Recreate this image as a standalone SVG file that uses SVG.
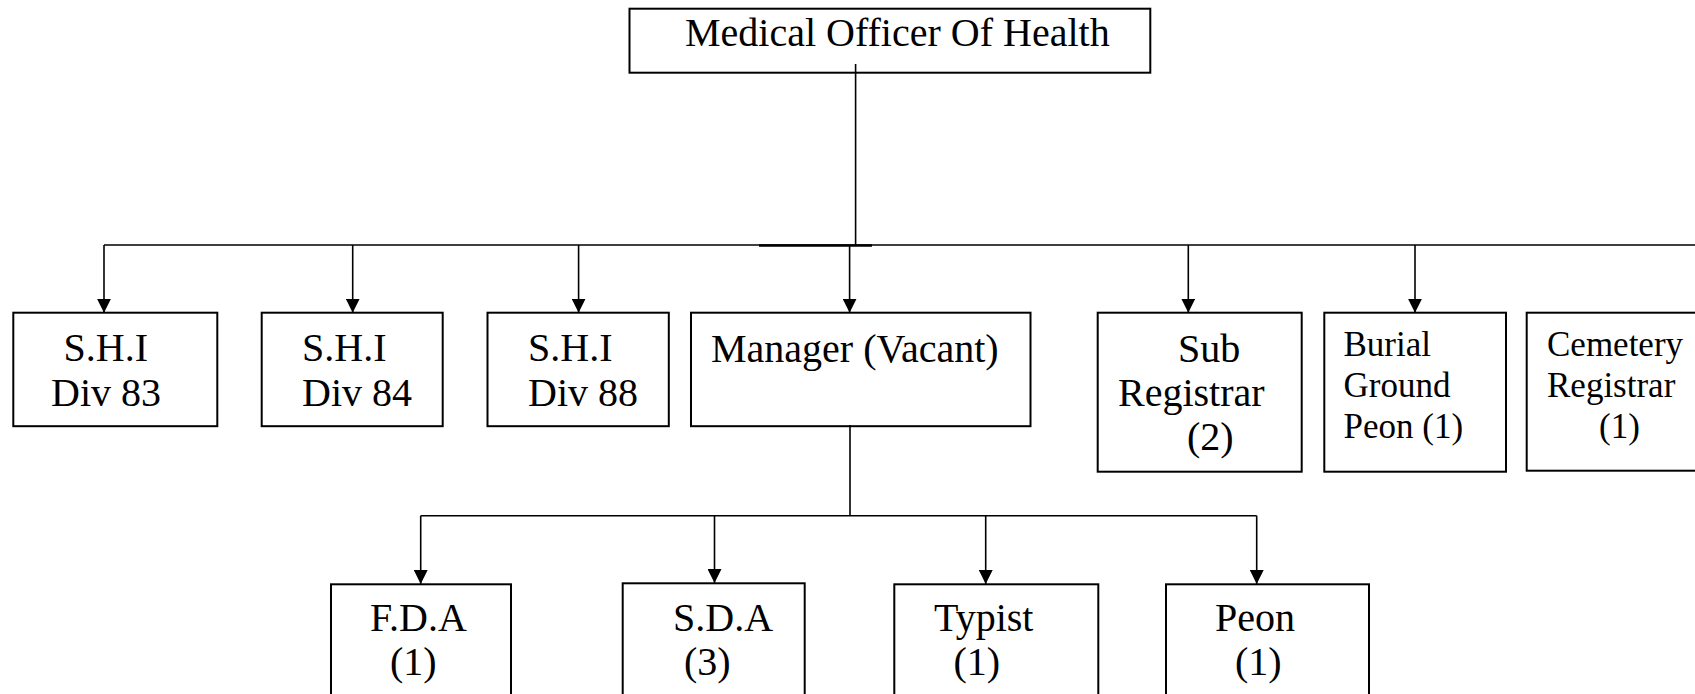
<svg xmlns="http://www.w3.org/2000/svg" width="1695" height="694" viewBox="0 0 1695 694">
<style>
.box{fill:#fff;stroke:#000;stroke-width:2}
.t{font-family:"Liberation Serif","Times New Roman",serif;font-size:40px;fill:#000}
.s{font-size:35px}
.ln{fill:none;stroke:#000;stroke-width:1.6}
</style>
<defs>
<marker id="ah" viewBox="0 0 14 14" refX="14" refY="7" markerWidth="14" markerHeight="14" orient="auto" markerUnits="userSpaceOnUse">
<path d="M0,0 L14,7 L0,14 z" fill="#000"/>
</marker>
</defs>
<rect width="1695" height="694" fill="#fff"/>
<g id="moh">
<rect class="box" x="629.5" y="8.7" width="520.8" height="64"/>
<text class="t" x="685" y="46">Medical Officer Of Health</text>
</g>
<g id="shi83">
<rect class="box" x="13.3" y="312.7" width="204" height="113.5"/>
<text class="t" x="63.5" y="361">S.H.I</text>
<text class="t" x="51" y="406">Div 83</text>
</g>
<g id="shi84">
<rect class="box" x="261.7" y="312.7" width="181" height="113.5"/>
<text class="t" x="302" y="361">S.H.I</text>
<text class="t" x="302" y="406">Div 84</text>
</g>
<g id="shi88">
<rect class="box" x="487.5" y="312.7" width="181.3" height="113.5"/>
<text class="t" x="528" y="361">S.H.I</text>
<text class="t" x="528" y="406">Div 88</text>
</g>
<g id="manager">
<rect class="box" x="691" y="312.7" width="339.5" height="113.5"/>
<text class="t" x="711" y="361.5">Manager (Vacant)</text>
</g>
<g id="subregistrar">
<rect class="box" x="1097.7" y="312.7" width="204" height="159"/>
<text class="t" x="1178" y="362">Sub</text>
<text class="t" x="1118" y="406">Registrar</text>
<text class="t" x="1187" y="450">(2)</text>
</g>
<g id="burial">
<rect class="box" x="1324.3" y="312.7" width="181.7" height="159"/>
<text class="t s" x="1343.5" y="356">Burial</text>
<text class="t s" x="1343.5" y="397">Ground</text>
<text class="t s" x="1343.5" y="438">Peon (1)</text>
</g>
<g id="cemetery">
<rect class="box" x="1526.7" y="312.7" width="200" height="158"/>
<text class="t s" x="1547" y="356">Cemetery</text>
<text class="t s" x="1547" y="397">Registrar</text>
<text class="t s" x="1599" y="438">(1)</text>
</g>
<g id="fda">
<rect class="box" x="331" y="584.3" width="180" height="140"/>
<text class="t" x="370" y="631">F.D.A</text>
<text class="t" x="390" y="675">(1)</text>
</g>
<g id="sda">
<rect class="box" x="622.7" y="583.3" width="182" height="140"/>
<text class="t" x="673" y="631">S.D.A</text>
<text class="t" x="684" y="675">(3)</text>
</g>
<g id="typist">
<rect class="box" x="894.3" y="584.3" width="204" height="140"/>
<text class="t" x="934" y="631">Typist</text>
<text class="t" x="953.5" y="675">(1)</text>
</g>
<g id="peon">
<rect class="box" x="1166" y="584.3" width="203" height="140"/>
<text class="t" x="1215" y="631">Peon</text>
<text class="t" x="1235" y="675">(1)</text>
</g>
<g id="connectors">
<line class="ln" x1="855.6" y1="64" x2="855.6" y2="245"/>
<line class="ln" x1="104" y1="245" x2="1700" y2="245"/>
<line x1="759" y1="245.5" x2="872" y2="245.5" stroke="#000" stroke-width="2.6"/>
<line class="ln" x1="104" y1="245" x2="104" y2="312.7" marker-end="url(#ah)"/>
<line class="ln" x1="352.7" y1="245" x2="352.7" y2="312.7" marker-end="url(#ah)"/>
<line class="ln" x1="578.6" y1="245" x2="578.6" y2="312.7" marker-end="url(#ah)"/>
<line class="ln" x1="849.6" y1="245" x2="849.6" y2="312.7" marker-end="url(#ah)"/>
<line class="ln" x1="1188.3" y1="245" x2="1188.3" y2="312.7" marker-end="url(#ah)"/>
<line class="ln" x1="1415" y1="245" x2="1415" y2="312.7" marker-end="url(#ah)"/>
<line class="ln" x1="850" y1="425" x2="850" y2="515.7"/>
<line class="ln" x1="420.7" y1="515.7" x2="1256.7" y2="515.7"/>
<line class="ln" x1="420.7" y1="515.7" x2="420.7" y2="584" marker-end="url(#ah)"/>
<line class="ln" x1="714.5" y1="515.7" x2="714.5" y2="583" marker-end="url(#ah)"/>
<line class="ln" x1="985.7" y1="515.7" x2="985.7" y2="584" marker-end="url(#ah)"/>
<line class="ln" x1="1256.7" y1="515.7" x2="1256.7" y2="584" marker-end="url(#ah)"/>
</g>
</svg>
